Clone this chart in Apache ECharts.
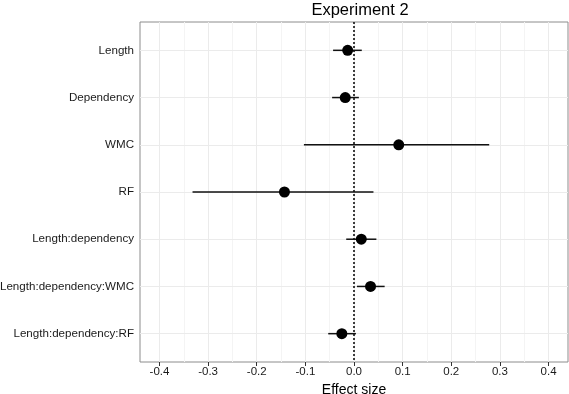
<!DOCTYPE html>
<html><head><meta charset="utf-8">
<script src="https://cdn.jsdelivr.net/npm/echarts@6/dist/echarts.min.js"></script>
<style>html,body{margin:0;padding:0;background:#fff}#c{width:569px;height:394px}</style>
</head><body><div id="c"></div>
<script>
const categories = ["Length","Dependency","WMC","RF","Length:dependency","Length:dependency:WMC","Length:dependency:RF"];
const estimates = [-0.013,-0.018,0.092,-0.143,0.015,0.034,-0.025];
const lower = [-0.043,-0.045,-0.103,-0.332,-0.016,0.006,-0.053];
const upper = [0.016,0.010,0.278,0.040,0.046,0.063,0.004];
const xTicks = [-0.4,-0.3,-0.2,-0.1,0.0,0.1,0.2,0.3,0.4];
const xMinor = [-0.35,-0.25,-0.15,-0.05,0.05,0.15,0.25,0.35];
const yTicks = [1,2,3,4,5,6,7];

const chart = echarts.init(document.getElementById('c'), null, {renderer:'canvas'});
const FONT = 'Liberation Sans, Arial, Helvetica, sans-serif';
const rows = categories.map((c,i)=>[lower[i], upper[i], i+1]);
const pts = categories.map((c,i)=>[estimates[i], i+1]);

chart.setOption({
  animation:false,
  title:{text:'Experiment 2', left:355, top:-3, textAlign:'center',
    textStyle:{fontFamily:FONT, fontSize:16.5, fontWeight:'normal', color:'#000'}},
  grid:{left:140, right:1, top:22, bottom:32, outerBoundsMode:'none', containLabel:false,
    show:true, borderColor:'#8c8c8c', borderWidth:1, backgroundColor:'#fff'},
  xAxis:{type:'value', min:-0.44, max:0.44,
    axisLine:{show:false},
    axisTick:{show:true, length:4, customValues:xTicks, lineStyle:{color:'#333'}},
    axisLabel:{customValues:xTicks, fontFamily:FONT, fontSize:11.5, color:'#1a1a1a', margin:4,
      formatter:v=>v.toFixed(1)},
    splitLine:{show:false},
    name:'Effect size', nameLocation:'middle', nameGap:17,
    nameTextStyle:{fontFamily:FONT, fontSize:14, color:'#000'}},
  yAxis:{type:'value', min:0.4, max:7.6, inverse:true,
    axisLine:{show:false},
    axisTick:{show:true, length:4, customValues:yTicks, lineStyle:{color:'#333'}},
    axisLabel:{customValues:yTicks, fontFamily:FONT, fontSize:11.6, color:'#1a1a1a', margin:6,
      formatter:v=>categories[Math.round(v)-1]},
    splitLine:{show:false}},
  series:[
    {type:'line', data:[], silent:true, z:1,
      markLine:{silent:true, symbol:'none', label:{show:false}, animation:false, z:1,
        data:[
          ...xMinor.map(v=>({xAxis:v, lineStyle:{color:'#f4f4f4', width:1, type:'solid'}})),
          ...xTicks.map(v=>({xAxis:v, lineStyle:{color:'#ebebeb', width:1, type:'solid'}})),
          ...yTicks.map(v=>({yAxis:v, lineStyle:{color:'#ebebeb', width:1, type:'solid'}}))
        ]}},
    {type:'line', data:[], silent:true, z:2,
      markLine:{silent:true, symbol:'none', label:{show:false}, animation:false, z:2,
        data:[{xAxis:0, lineStyle:{color:'#000', width:1.5, type:[2,2]}}]}},
    {type:'custom', data:rows, z:3,
      renderItem:(params, api)=>{
        const a = api.coord([api.value(0), api.value(2)]);
        const b = api.coord([api.value(1), api.value(2)]);
        return {type:'line', shape:{x1:a[0], y1:a[1], x2:b[0], y2:b[1]},
          style:{stroke:'#111', lineWidth:1.5}};
      }},
    {type:'scatter', data:pts, symbol:'circle', symbolSize:11, z:4,
      itemStyle:{color:'#000', opacity:1}}
  ]
});
</script></body></html>
